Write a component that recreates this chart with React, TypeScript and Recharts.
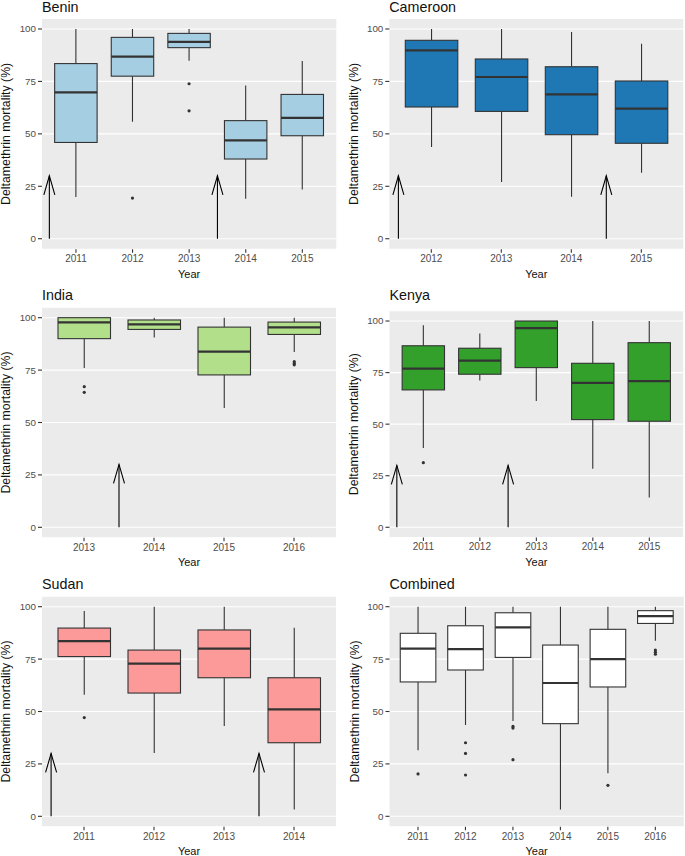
import React from 'react';
import { ComposedChart, Bar, XAxis, YAxis, CartesianGrid, ReferenceLine } from 'recharts';

// ---------- data ----------
const yTicks = [0, 25, 50, 75, 100];

const beninYears = ['2011', '2012', '2013', '2014', '2015'];
const beninLow = [19.9, 55.8, 84.9, 19.1, 23.5];
const beninQ1 = [45.9, 77.5, 91.1, 38.0, 49.1];
const beninMedian = [69.8, 86.8, 93.9, 46.9, 57.6];
const beninQ3 = [83.5, 96.0, 97.9, 56.3, 68.8];
const beninHigh = [100, 100, 100, 73.1, 84.7];
const beninOutliers = [[], [19.4], [73.9, 61.0], [], []];
const beninArrows = [0.53, 3.5];

const cameroonYears = ['2012', '2013', '2014', '2015'];
const cameroonLow = [43.7, 27.0, 20.0, 31.5];
const cameroonQ1 = [62.8, 60.7, 49.6, 45.5];
const cameroonMedian = [89.8, 77.1, 68.8, 62.0];
const cameroonQ3 = [94.6, 85.7, 82.0, 75.2];
const cameroonHigh = [100, 100, 98.6, 93.0];
const cameroonOutliers = [[], [], [], []];
const cameroonArrows = [0.53, 3.5];

const indiaYears = ['2013', '2014', '2015', '2016'];
const indiaLow = [76.0, 90.5, 56.9, 83.6];
const indiaQ1 = [90.0, 94.4, 72.7, 92.0];
const indiaMedian = [97.8, 96.8, 83.8, 95.4];
const indiaQ3 = [100, 98.9, 95.5, 97.9];
const indiaHigh = [100, 100, 100, 100];
const indiaOutliers = [[67.1, 64.4], [], [], [79.0, 78.2, 77.5]];
const indiaArrows = [1.5];

const kenyaYears = ['2011', '2012', '2013', '2014', '2015'];
const kenyaLow = [38.4, 71.2, 61.2, 28.4, 14.5];
const kenyaQ1 = [66.6, 74.2, 77.4, 52.2, 51.4];
const kenyaMedian = [76.9, 80.8, 96.6, 70.0, 70.9];
const kenyaQ3 = [88.0, 86.8, 100, 79.5, 89.5];
const kenyaHigh = [97.9, 93.9, 100, 100, 100];
const kenyaOutliers = [[31.3], [], [], [], []];
const kenyaArrows = [0.53, 2.5];

const sudanYears = ['2011', '2012', '2013', '2014'];
const sudanLow = [58.0, 30.2, 43.1, 3.2];
const sudanQ1 = [76.2, 58.8, 66.1, 35.1];
const sudanMedian = [83.6, 72.8, 80.0, 51.0];
const sudanQ3 = [89.8, 79.3, 88.9, 66.1];
const sudanHigh = [97.9, 100, 100, 90.0];
const sudanOutliers = [[47.1], [], [], []];
const sudanArrows = [0.53, 3.5];

const combinedYears = ['2011', '2012', '2013', '2014', '2015', '2016'];
const combinedLow = [31.5, 43.6, 45.5, 3.2, 20.5, 83.8];
const combinedQ1 = [64.1, 69.8, 75.8, 44.2, 61.7, 92.0];
const combinedMedian = [80.0, 79.8, 90.1, 63.6, 75.0, 95.5];
const combinedQ3 = [87.3, 90.9, 97.1, 81.7, 89.2, 98.1];
const combinedHigh = [100, 100, 100, 100, 100, 100];
const combinedOutliers = [[20.2], [35.1, 30.0, 19.7], [42.9, 42.1, 27.0], [], [14.8], [79.3, 78.3, 77.3]];
const combinedArrows: number[] = [];

// ---------- styling ----------
const FONT = '"Liberation Sans", Arial, Helvetica, sans-serif';
const INK = '#333333';

function buildRows(years: string[], low: number[], q1: number[], med: number[], q3: number[], high: number[], out: number[][]) {
  return years.map((y, i) => ({ pos: i + 1, year: y, low: low[i], q1: q1[i], med: med[i], q3: q3[i], high: high[i], out: out[i] }));
}

const panels = [
  { title: 'Benin', color: '#a6cee3', years: beninYears, rows: buildRows(beninYears, beninLow, beninQ1, beninMedian, beninQ3, beninHigh, beninOutliers), arrows: beninArrows,
    cellX: 0, cellY: 0, cellW: 342, cellH: 285, x0: 42, x1: 336.3, y0: 18.5, y1: 249.2, titleY: 12.3, labX: 10.2 },
  { title: 'Cameroon', color: '#1f78b4', years: cameroonYears, rows: buildRows(cameroonYears, cameroonLow, cameroonQ1, cameroonMedian, cameroonQ3, cameroonHigh, cameroonOutliers), arrows: cameroonArrows,
    cellX: 342, cellY: 0, cellW: 343, cellH: 285, x0: 389.3, x1: 683.3, y0: 18.5, y1: 249.2, titleY: 12.3, labX: 358.5 },
  { title: 'India', color: '#b2df8a', years: indiaYears, rows: buildRows(indiaYears, indiaLow, indiaQ1, indiaMedian, indiaQ3, indiaHigh, indiaOutliers), arrows: indiaArrows,
    cellX: 0, cellY: 285, cellW: 342, cellH: 285, x0: 42, x1: 336, y0: 307.2, y1: 537.8, titleY: 300, labX: 10.2 },
  { title: 'Kenya', color: '#33a02c', years: kenyaYears, rows: buildRows(kenyaYears, kenyaLow, kenyaQ1, kenyaMedian, kenyaQ3, kenyaHigh, kenyaOutliers), arrows: kenyaArrows,
    cellX: 342, cellY: 285, cellW: 343, cellH: 285, x0: 389.5, x1: 683.2, y0: 310.7, y1: 537.6, titleY: 300, labX: 358.5 },
  { title: 'Sudan', color: '#fb9a99', years: sudanYears, rows: buildRows(sudanYears, sudanLow, sudanQ1, sudanMedian, sudanQ3, sudanHigh, sudanOutliers), arrows: sudanArrows,
    cellX: 0, cellY: 570, cellW: 342, cellH: 286, x0: 42, x1: 336, y0: 596.2, y1: 826.8, titleY: 589, labX: 10.2 },
  { title: 'Combined', color: '#ffffff', years: combinedYears, rows: buildRows(combinedYears, combinedLow, combinedQ1, combinedMedian, combinedQ3, combinedHigh, combinedOutliers), arrows: combinedArrows,
    cellX: 342, cellY: 570, cellW: 343, cellH: 286, x0: 389.5, x1: 683.8, y0: 596.2, y1: 826.8, titleY: 589, labX: 358.5 },
];

function BoxShape(props: any) {
  const { x, y, width, height, payload, color } = props;
  if (!payload || x == null || y == null) return null;
  const { low, q1, med, q3, high, out } = payload;
  const k = high - low === 0 ? 0 : height / (high - low);
  const py = (v: number) => y + (high - v) * k;
  const cx = x + width / 2;
  return (
    <g>
      <line x1={cx} x2={cx} y1={py(high)} y2={py(q3)} stroke={INK} strokeWidth={1.1} />
      <line x1={cx} x2={cx} y1={py(q1)} y2={py(low)} stroke={INK} strokeWidth={1.1} />
      <rect x={x} y={py(q3)} width={width} height={py(q1) - py(q3)} fill={color} stroke={INK} strokeWidth={1.1} />
      <line x1={x} x2={x + width} y1={py(med)} y2={py(med)} stroke={INK} strokeWidth={2.2} />
      {(out || []).map((v: number, i: number) => (
        <circle key={i} cx={cx} cy={py(v)} r={1.6} fill={INK} />
      ))}
    </g>
  );
}

function ArrowShape(props: any) {
  const { x1, y1, x2, y2 } = props;
  if (x1 == null) return null;
  const tip = Math.min(y1, y2);
  const base = Math.max(y1, y2);
  const x = x1;
  return (
    <g>
      <line x1={x} x2={x} y1={base} y2={tip} stroke="#000" strokeWidth={1.1} />
      <polyline points={`${x - 5.5},${tip + 19} ${x},${tip} ${x + 5.5},${tip + 19}`} fill="none" stroke="#000" strokeWidth={1.1} />
    </g>
  );
}

function Panel({ p }: { p: any }) {
  const n = p.years.length;
  const unit = (p.x1 - p.x0) / (n + 0.2);
  const boxW = 0.75 * unit;
  return (
    <div style={{ position: 'absolute', left: p.cellX, top: p.cellY, width: p.cellW, height: p.cellH }}>
      <ComposedChart
        width={p.cellW}
        height={p.cellH}
        data={p.rows}
        margin={{ top: p.y0 - p.cellY, right: p.cellX + p.cellW - p.x1, bottom: 0, left: 0 }}
      >
        <CartesianGrid vertical={false} fill="#ebebeb" fillOpacity={1} stroke="#ffffff" strokeWidth={1.1} />
        <XAxis
          type="number"
          dataKey="pos"
          domain={[0.4, n + 0.6]}
          ticks={p.years.map((_: string, i: number) => i + 1)}
          tickFormatter={(v: number) => p.years[Math.round(v) - 1]}
          interval={0}
          allowDataOverflow
          height={p.cellY + p.cellH - p.y1}
          axisLine={false}
          tickLine={{ stroke: INK, strokeWidth: 1.1 }}
          tickSize={3.5}
          tickMargin={2.2}
          tick={{ fill: '#4d4d4d', fontSize: 10, fontFamily: FONT }}
        />
        <YAxis
          type="number"
          domain={[-5, 105]}
          ticks={yTicks}
          interval={0}
          allowDataOverflow
          width={p.x0 - p.cellX}
          axisLine={false}
          tickLine={{ stroke: INK, strokeWidth: 1.1 }}
          tickSize={4}
          tickMargin={2}
          tick={{ fill: '#4d4d4d', fontSize: 9.8, fontFamily: FONT }}
        />
        <Bar
          dataKey={(d: any) => [d.low, d.high]}
          barSize={boxW}
          fill={p.color}
          isAnimationActive={false}
          shape={(props: any) => <BoxShape {...props} color={p.color} />}
        />
        {p.arrows.map((a: number) => (
          <ReferenceLine
            key={a}
            segment={[{ x: a, y: 0 }, { x: a, y: 30 }]}
            ifOverflow="visible"
            shape={(props: any) => <ArrowShape {...props} />}
          />
        ))}
      </ComposedChart>
    </div>
  );
}

export default function App() {
  return (
    <div style={{ position: 'absolute', left: 0, top: 0, width: 685, height: 856, background: '#ffffff', fontFamily: FONT }}>
      {panels.map((p) => (
        <Panel key={p.title} p={p} />
      ))}
      <svg width={685} height={856} style={{ position: 'absolute', left: 0, top: 0, pointerEvents: 'none' }}>
        {panels.map((p) => {
          const cy = (p.y0 + p.y1) / 2;
          return (
            <g key={p.title} fontFamily={FONT} fill="#111">
              <text x={p.x0} y={p.titleY} fontSize={14.3} fontWeight="normal">{p.title}</text>
              <text x={p.labX} y={cy} fontSize={12.3} fontWeight="normal" textAnchor="middle" transform={`rotate(-90 ${p.labX} ${cy})`}>
                Deltamethrin mortality (%)
              </text>
              <text x={(p.x0 + p.x1) / 2} y={p.y1 + 28.3} fontSize={11} fontWeight="normal" textAnchor="middle">Year</text>
            </g>
          );
        })}
      </svg>
    </div>
  );
}
